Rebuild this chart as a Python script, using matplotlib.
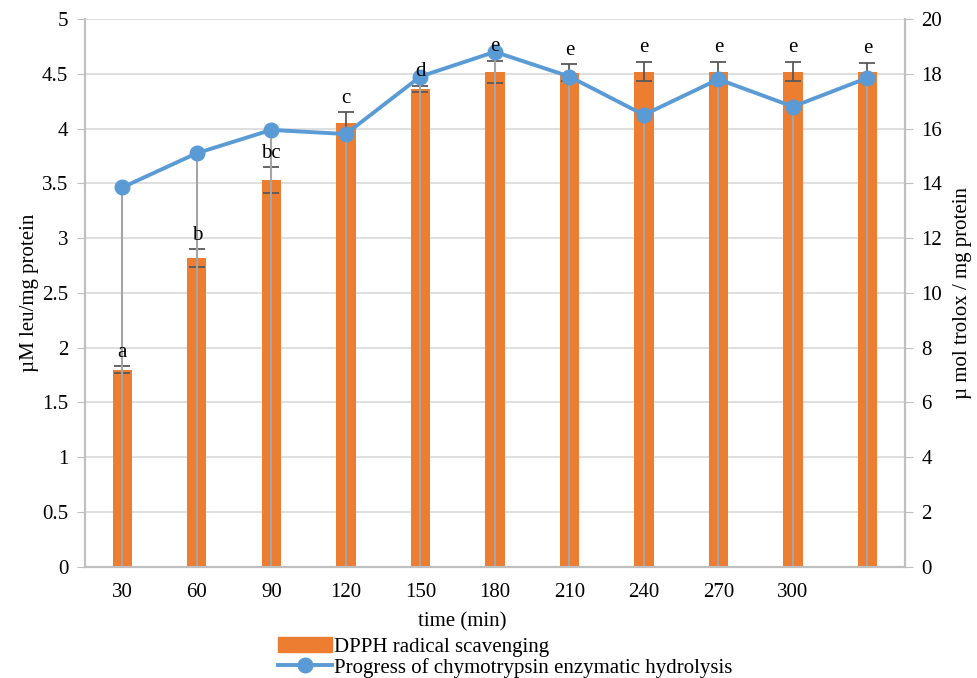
import matplotlib

matplotlib.use("Agg")
import matplotlib.pyplot as plt
import numpy as np
from matplotlib.lines import Line2D
from matplotlib.patches import Patch

plt.rcParams["font.family"] = ["Liberation Serif", "DejaVu Serif"]

# dados
times = ["30", "60", "90", "120", "150", "180", "210", "240", "270", "300", ""]
dpph = [1.80, 2.82, 3.53, 4.05, 4.36, 4.52, 4.51, 4.52, 4.52, 4.52, 4.52]      # eixo esquerdo
dpph_err = [0.03, 0.08, 0.12, 0.10, 0.03, 0.10, 0.08, 0.09, 0.09, 0.09, 0.08]
letters = ["a", "b", "bc", "c", "d", "e", "e", "e", "e", "e", "e"]
hydro = [13.85, 15.1, 15.95, 15.8, 17.9, 18.8, 17.9, 16.5, 17.8, 16.8, 17.85]  # eixo direito

C_BAR = "#ed7d31"
C_LINE = "#5b9bd5"
C_DROP = "#a5a5a5"
C_ERR = "#595959"
C_AX = "#bfbfbf"
C_GRID = "#d9d9d9"
FS = 15

fig = plt.figure(figsize=(9.77, 6.78), dpi=100)
ax = fig.add_axes([0.087, 0.164, 0.839, 0.808])
ax2 = ax.twinx()

x = np.arange(len(times))
ax.bar(x, dpph, width=0.26, color=C_BAR, zorder=2)
ax.errorbar(x, dpph, yerr=dpph_err, fmt="none", ecolor=C_ERR, elinewidth=1.3,
            capsize=6, capthick=1.3, zorder=3)

ax2.vlines(x, 0, hydro, color=C_DROP, lw=1.5, zorder=1)
ax2.plot(x, hydro, color=C_LINE, lw=2.8, marker="o", ms=10.5, zorder=2)

for xi, v, e, lab in zip(x, dpph, dpph_err, letters):
    ax2.text(xi, v + e + 0.04, lab, transform=ax.transData, ha="center", va="bottom",
             fontsize=FS, color="black", zorder=5)

ax.set_xlim(-0.5, len(times) - 0.5)
ax.set_ylim(0, 5)
ax.set_yticks(np.arange(0, 5.01, 0.5))
ax.set_yticklabels(["0", "0.5", "1", "1.5", "2", "2.5", "3", "3.5", "4", "4.5", "5"])
ax2.set_ylim(0, 20)
ax2.set_yticks(np.arange(0, 21, 2))
ax.set_xticks(x)
ax.set_xticklabels(times)

ax.grid(True, axis="y", color=C_GRID, lw=1.2, zorder=0)
ax.set_axisbelow(True)
for a in (ax, ax2):
    a.spines["top"].set_visible(False)
    for side in ("left", "right", "bottom"):
        a.spines[side].set_color(C_AX)
        a.spines[side].set_linewidth(1.5)
ax.tick_params(axis="y", length=6, color=C_AX, labelsize=FS, pad=6)
ax2.tick_params(axis="y", length=6, color=C_AX, labelsize=FS, pad=6)
ax.tick_params(axis="x", length=0, labelsize=FS, pad=12)

ax.set_ylabel("µM leu/mg protein", fontsize=FS, labelpad=2)
ax2.set_ylabel("µ mol trolox / mg protein", fontsize=FS, labelpad=8)
fig.text(462 / 977, 1 - 622 / 678, "time (min)", ha="center", va="center", fontsize=FS)

handles = [Patch(color=C_BAR),
           Line2D([], [], color=C_LINE, lw=2.8, marker="o", ms=10.5)]
fig.legend(handles, ["DPPH radical scavenging", "Progress of chymotrypsin enzymatic hydrolysis"],
           loc="upper left", bbox_to_anchor=(278 / 977, 1 - 637 / 678), frameon=False,
           fontsize=FS, handlelength=2.6, handletextpad=0.1, labelspacing=0.05,
           borderpad=0, borderaxespad=0)

fig.savefig("out.png", dpi=100)
